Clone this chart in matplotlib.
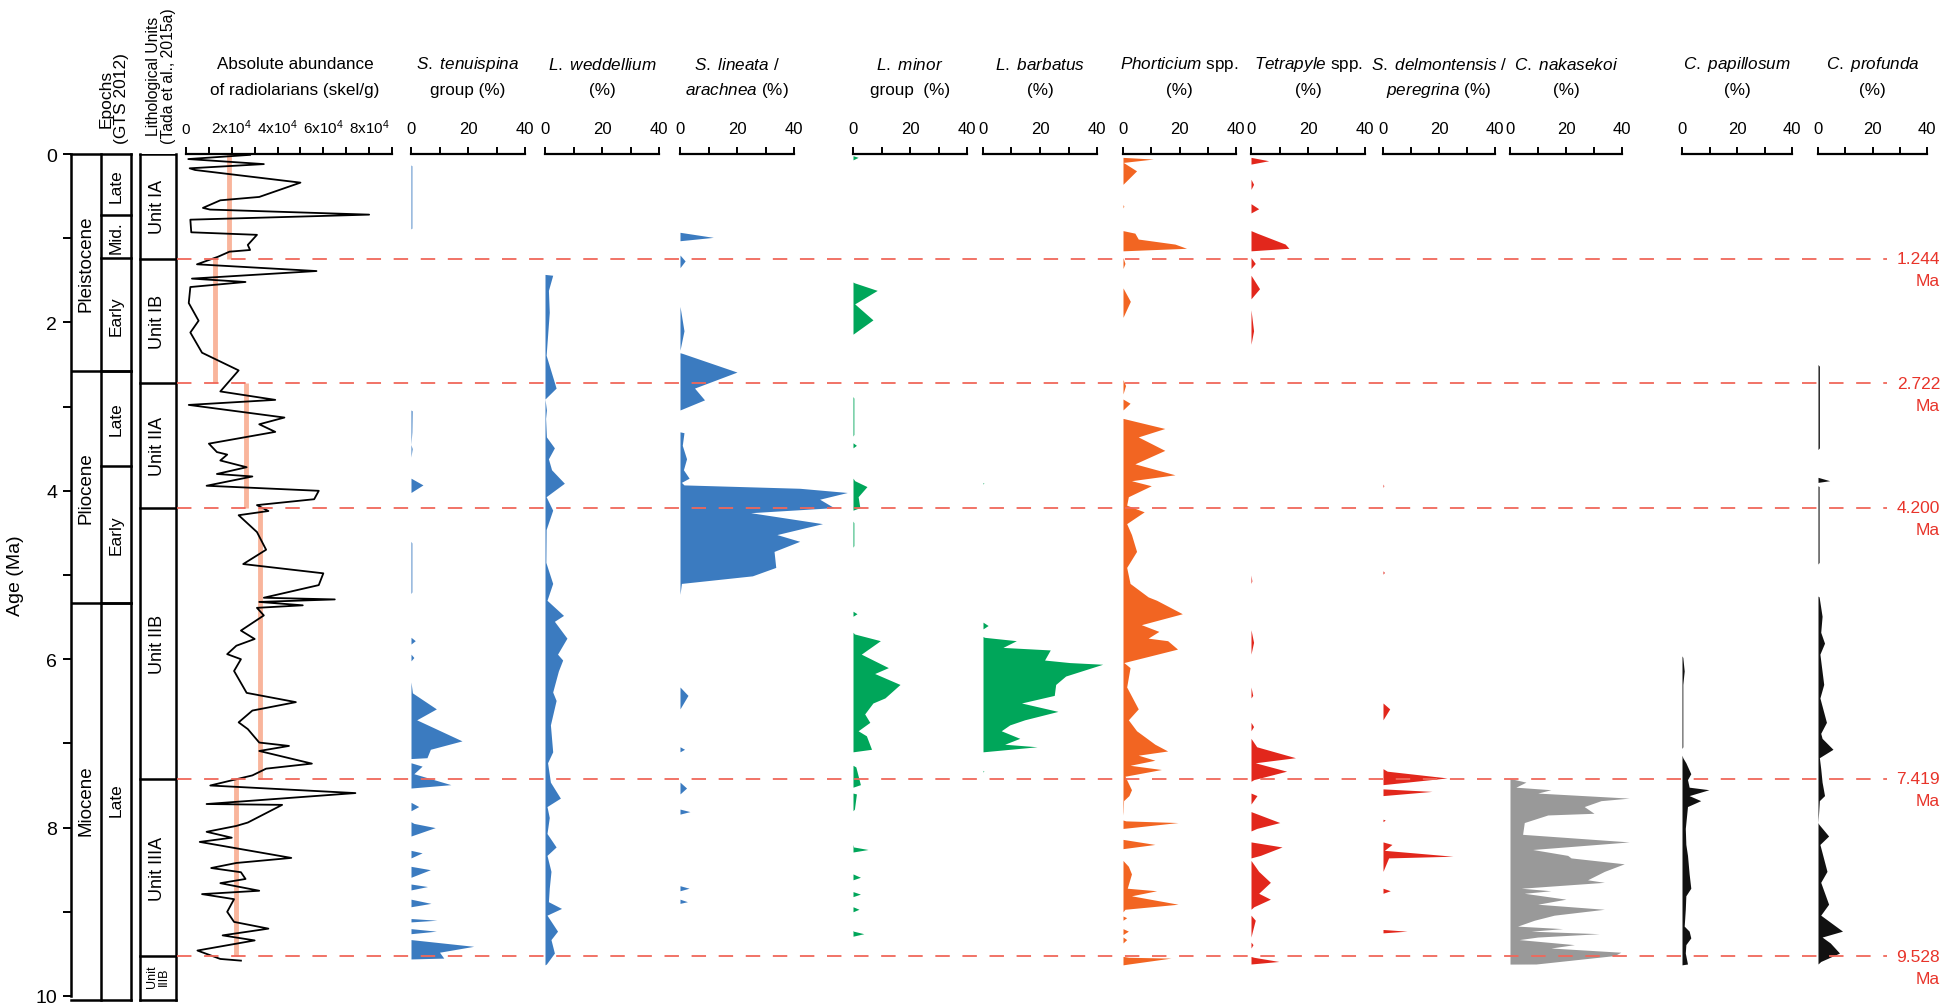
import matplotlib
matplotlib.use("Agg")
from matplotlib import pyplot as plt
from matplotlib import font_manager

W, H = 1946, 1004
TOP, BOT = 155, 997   # pixel rows of 0 Ma and 10 Ma

names = {f.name for f in font_manager.fontManager.ttflist}
NARROW = "Liberation Sans Narrow" if "Liberation Sans Narrow" in names else "Liberation Sans"
TSIZE = 14 if NARROW.endswith("Narrow") else 12.3   # title size, narrower face if we have it
plt.rcParams["font.family"] = [NARROW, "DejaVu Sans"]
plt.rcParams["mathtext.fontset"] = "custom"
plt.rcParams["mathtext.rm"] = NARROW
plt.rcParams["mathtext.it"] = NARROW + ":italic"

# ---- stratigraphy
epochs = ["Pleistocene", "Pliocene", "Miocene"]
epoch_bounds = [0, 2.58, 5.33, 10]
subepochs = ["Late", "Mid.", "Early", "Late", "Early", "Late"]
subepoch_bounds = [0, 0.73, 1.24, 2.58, 3.7, 5.33, 10]
units = ["Unit IA", "Unit IB", "Unit IIA", "Unit IIB", "Unit IIIA", "Unit\nIIIB"]
unit_bounds = [0, 1.244, 2.722, 4.2, 7.419, 9.528, 10]
boundary_ages = [1.244, 2.722, 4.200, 7.419, 9.528]
boundary_labels = ["1.244", "2.722", "4.200", "7.419", "9.528"]

# ---- absolute abundance (age Ma, skel/g in 1e4)
abund = [(0.01, 2.8), (0.06, 0.1), (0.12, 3.4), (0.17, 0.16), (0.19, 0.4), (0.34, 5.0),
         (0.51, 3.2), (0.55, 1.5), (0.64, 0.74), (0.66, 1.05), (0.72, 8.0), (0.78, 0.19),
         (0.93, 0.23), (0.96, 3.1), (1.08, 2.7), (1.14, 2.8), (1.16, 1.9), (1.22, 1.4),
         (1.31, 0.48), (1.39, 5.7), (1.48, 0.26), (1.52, 2.6), (1.58, 0.19), (1.77, 0.12),
         (1.98, 0.55), (2.12, 0.19), (2.36, 0.7), (2.57, 2.3), (2.82, 1.5), (2.92, 3.9),
         (2.98, 0.12), (3.13, 4.3), (3.21, 3.2), (3.30, 3.9), (3.44, 1.0), (3.54, 1.35),
         (3.57, 1.8), (3.64, 1.5), (3.72, 2.65), (3.80, 1.35), (3.83, 2.9), (3.94, 0.9),
         (4.00, 5.8), (4.10, 5.6), (4.17, 3.1), (4.24, 3.6), (4.29, 2.3), (4.49, 3.1),
         (4.70, 3.5), (4.87, 2.5), (4.98, 6.0), (5.12, 5.8), (5.27, 3.4), (5.29, 6.5),
         (5.32, 3.2), (5.36, 5.1), (5.39, 3.1), (5.48, 3.4), (5.66, 2.4), (5.76, 3.0),
         (5.84, 2.2), (5.94, 1.8), (6.00, 2.4), (6.14, 2.1), (6.40, 2.65), (6.51, 4.8),
         (6.61, 2.9), (6.75, 2.3), (6.83, 2.7), (6.99, 3.2), (7.03, 4.5), (7.09, 3.2),
         (7.24, 5.5), (7.30, 3.5), (7.38, 2.9), (7.50, 1.06), (7.59, 7.4), (7.72, 0.9),
         (7.73, 4.2), (7.94, 2.7), (7.98, 2.2), (8.05, 0.9), (8.12, 2.0), (8.17, 0.6),
         (8.36, 4.6), (8.42, 2.2), (8.48, 1.1), (8.53, 2.4), (8.61, 2.6), (8.66, 1.5),
         (8.75, 3.2), (8.79, 0.7), (8.85, 2.1), (9.00, 1.8), (9.12, 2.1), (9.20, 3.6),
         (9.28, 1.6), (9.34, 3.0), (9.46, 0.5), (9.56, 1.5), (9.58, 2.4)]
unit_mean = [1.9, 1.26, 2.6, 3.25, 2.2]   # x1e4, units IA..IIIA

# ---- relative abundances (age Ma, %)
tenuispina = [(0.13, 0), (0.14, 0.3), (0.88, 0.3), (0.89, 0), (3.04, 0), (3.05, 0.4), (3.3, 0.3),
              (3.45, 0), (3.5, 0.4), (3.6, 0), (3.85, 0), (3.93, 4.2), (4.02, 0), (4.6, 0),
              (4.62, 0.3), (5.2, 0.3), (5.22, 0), (5.74, 0), (5.78, 1.5), (5.82, 0), (5.94, 0),
              (5.98, 1.0), (6.02, 0), (6.27, 0), (6.4, 0.5), (6.59, 8.9), (6.72, 2.0), (6.97, 17.9),
              (7.07, 6.8), (7.17, 5.6), (7.18, 0), (7.23, 0), (7.27, 3.9), (7.36, 1.0), (7.49, 14.0),
              (7.53, 0), (7.7, 0), (7.75, 2.7), (7.8, 0), (7.93, 0), (7.95, 1.0), (8.0, 8.5),
              (8.1, 0), (8.27, 0), (8.3, 3.9), (8.36, 0), (8.46, 0), (8.5, 6.8), (8.59, 0),
              (8.67, 0), (8.7, 5.8), (8.74, 0), (8.85, 0), (8.9, 7.0), (8.94, 0), (9.08, 0),
              (9.1, 9.1), (9.12, 0), (9.2, 0), (9.23, 8.9), (9.26, 0), (9.33, 0), (9.41, 22.0),
              (9.48, 10.0), (9.55, 11.5), (9.56, 0)]
weddellium = [(1.43, 0), (1.44, 2.7), (1.62, 1.2), (1.88, 1.5), (2.39, 0.4), (2.78, 3.9), (2.91, 0),
              (3.04, 0.5), (3.14, 0.2), (3.36, 0.5), (3.49, 3.3), (3.62, 1.2), (3.75, 2.3),
              (3.91, 6.8), (4.07, 0.4), (4.23, 2.7), (4.46, 0.4), (4.85, 0.3), (5.1, 2.7),
              (5.3, 0.7), (5.48, 6.5), (5.55, 3.3), (5.75, 7.7), (5.94, 4.4), (6.01, 6.2),
              (6.14, 4.7), (6.39, 2.7), (6.49, 3.9), (6.78, 1.9), (7.1, 2.7), (7.23, 0.9),
              (7.46, 1.9), (7.65, 5.4), (7.75, 0.7), (7.88, 1.5), (8.07, 0.7), (8.23, 3.9),
              (8.33, 0.7), (8.52, 2.1), (8.72, 1.5), (8.88, 1.2), (8.96, 5.8), (9.04, 0.7),
              (9.23, 4.4), (9.33, 2.1), (9.49, 3.3), (9.62, 0.5), (9.63, 0)]
lineata = [(0.93, 0), (0.99, 11.7), (1.03, 0), (1.2, 0), (1.27, 1.8), (1.35, 0), (1.81, 0),
           (2.1, 1.4), (2.33, 0), (2.36, 0), (2.37, 1.0), (2.59, 20.0), (2.78, 5.1), (2.92, 8.6),
           (3.04, 0), (3.3, 0), (3.31, 1.4), (3.46, 0.8), (3.62, 2.3), (3.75, 1.2), (3.85, 3.2),
           (3.9, 0.5), (3.93, 1.4), (3.97, 42.0), (4.02, 58.7), (4.1, 49.0), (4.2, 54.0),
           (4.26, 24.8), (4.39, 50.0), (4.52, 34.0), (4.6, 42.0), (4.72, 33.0), (4.91, 33.6),
           (5.01, 25.4), (5.1, 0.5), (5.23, 0), (6.33, 0), (6.43, 2.8), (6.59, 0), (7.04, 0),
           (7.07, 1.6), (7.1, 0), (7.46, 0), (7.53, 2.3), (7.6, 0), (7.78, 0), (7.81, 3.5),
           (7.84, 0), (8.69, 0), (8.72, 3.2), (8.75, 0), (8.85, 0), (8.88, 2.6), (8.9, 0)]
minor = [(0.02, 0), (0.04, 1.8), (0.07, 0), (1.52, 0), (1.53, 0.5), (1.62, 8.5), (1.78, 0.6),
         (1.97, 7.0), (2.14, 0), (2.88, 0), (2.9, 0.3), (3.33, 0.3), (3.35, 0), (3.43, 0),
         (3.46, 1.2), (3.49, 0), (3.85, 0), (3.88, 0.6), (3.95, 4.9), (4.07, 1.8), (4.2, 2.4),
         (4.23, 0), (4.36, 0), (4.38, 0.3), (4.65, 0.3), (4.67, 0), (5.43, 0), (5.46, 1.4),
         (5.49, 0), (5.68, 0), (5.7, 0.5), (5.78, 9.6), (5.94, 2.9), (6.1, 12.4), (6.17, 7.6),
         (6.3, 16.5), (6.46, 11.2), (6.52, 7.0), (6.65, 4.1), (6.75, 5.9), (6.85, 1.8),
         (6.91, 4.7), (7.07, 6.5), (7.1, 0), (7.26, 0), (7.28, 1.0), (7.49, 2.6), (7.52, 0),
         (7.59, 0), (7.6, 1.2), (7.78, 0.5), (7.8, 0), (8.2, 0), (8.23, 0.2), (8.26, 5.3),
         (8.29, 0), (8.55, 0), (8.59, 2.6), (8.62, 0), (8.76, 0), (8.79, 2.6), (8.82, 0),
         (8.94, 0), (8.97, 2.1), (9.0, 0), (9.22, 0), (9.23, 0.2), (9.26, 3.8), (9.29, 0)]
barbatus = [(3.9, 0), (3.91, 0.3), (3.92, 0), (5.56, 0), (5.6, 1.8), (5.64, 0), (5.73, 0),
            (5.74, 0.5), (5.78, 11.7), (5.86, 7.0), (5.89, 23.6), (6.01, 21.6), (6.04, 30.4),
            (6.06, 42.0), (6.2, 29.0), (6.3, 25.5), (6.43, 25.0), (6.52, 13.5), (6.62, 26.3),
            (6.72, 14.6), (6.78, 9.4), (6.85, 6.4), (6.94, 12.9), (7.01, 7.6), (7.04, 19.0),
            (7.1, 0), (7.32, 0), (7.33, 0.3), (7.34, 0)]
phorticium = [(0.04, 0), (0.06, 10.7), (0.1, 0.1), (0.2, 4.8), (0.36, 0), (0.6, 0), (0.62, 0.3),
              (0.64, 0), (0.91, 0), (0.94, 4.2), (1.01, 5.4), (1.07, 18.4), (1.12, 22.5),
              (1.15, 0), (1.23, 0), (1.3, 0.7), (1.36, 0), (1.59, 0), (1.75, 2.6), (1.94, 0),
              (2.68, 0), (2.75, 0.9), (2.85, 0), (2.91, 0), (2.96, 2.5), (3.04, 0), (3.14, 0),
              (3.26, 14.8), (3.36, 5.4), (3.52, 14.8), (3.68, 4.2), (3.81, 18.4), (3.88, 3.0),
              (3.94, 10.0), (4.07, 1.9), (4.17, 1.3), (4.25, 7.5), (4.39, 1.3), (4.52, 3.0),
              (4.72, 4.8), (4.91, 1.3), (5.1, 2.5), (5.26, 8.9), (5.3, 11.9), (5.46, 21.0),
              (5.59, 6.5), (5.67, 12.7), (5.75, 8.9), (5.78, 15.8), (5.88, 19.3), (6.04, 0.3),
              (6.1, 2.5), (6.33, 1.3), (6.59, 5.4), (6.72, 1.9), (6.85, 4.8), (7.01, 11.3),
              (7.09, 15.8), (7.14, 5.4), (7.2, 11.3), (7.26, 2.5), (7.31, 13.6), (7.39, 0.7),
              (7.55, 3.0), (7.62, 2.1), (7.68, 0.2), (7.81, 0.1), (7.85, 0), (7.91, 0),
              (7.92, 1.0), (7.94, 19.5), (8.01, 0), (8.14, 0), (8.2, 11.3), (8.25, 0), (8.39, 0),
              (8.46, 1.9), (8.55, 3.0), (8.72, 1.5), (8.75, 11.9), (8.81, 3.0), (8.91, 19.5),
              (8.97, 0.7), (9.0, 0), (9.05, 0), (9.07, 1.3), (9.1, 0), (9.2, 0), (9.23, 1.9),
              (9.27, 0), (9.3, 0), (9.33, 1.3), (9.37, 0), (9.53, 0), (9.54, 2.0), (9.55, 17.0),
              (9.62, 2.0), (9.63, 0)]
tetrapyle = [(0.04, 0), (0.08, 6.2), (0.12, 0), (0.3, 0), (0.36, 0.9), (0.42, 0), (0.59, 0),
             (0.65, 2.7), (0.7, 0), (0.91, 0), (0.94, 2.1), (1.07, 12.0), (1.12, 13.3), (1.15, 0),
             (1.23, 0), (1.3, 1.5), (1.36, 0), (1.44, 0), (1.6, 3.0), (1.72, 0), (1.85, 0),
             (2.1, 0.9), (2.26, 0), (5.0, 0), (5.07, 0.3), (5.1, 0), (5.65, 0), (5.8, 0.9),
             (5.94, 0), (6.33, 0), (6.43, 0.6), (6.46, 0), (6.75, 0), (6.8, 0.9), (6.85, 0),
             (6.94, 0), (7.04, 2.0), (7.17, 15.6), (7.23, 1.5), (7.33, 12.5), (7.43, 1.0),
             (7.45, 0), (7.59, 0), (7.62, 2.1), (7.72, 0), (7.81, 0), (7.94, 10.1), (8.01, 2.0),
             (8.04, 0), (8.17, 0), (8.23, 10.9), (8.33, 3.3), (8.36, 0), (8.39, 0), (8.52, 2.7),
             (8.65, 6.8), (8.78, 2.7), (8.85, 6.8), (8.94, 1.0), (8.97, 0), (9.04, 0), (9.1, 1.5),
             (9.23, 0.5), (9.3, 0), (9.36, 0), (9.39, 0.7), (9.43, 0), (9.53, 0), (9.54, 1.0),
             (9.59, 9.8), (9.62, 0)]
delmontensis = [(3.92, 0), (3.94, 0.3), (3.96, 0), (4.95, 0), (4.97, 0.5), (4.99, 0), (6.52, 0),
                (6.59, 2.4), (6.72, 0), (7.3, 0), (7.33, 1.5), (7.41, 22.9), (7.49, 0),
                (7.54, 0), (7.55, 5.8), (7.57, 17.5), (7.62, 0), (7.9, 0), (7.91, 0.8),
                (7.93, 0), (8.17, 0), (8.2, 3.2), (8.27, 0.5), (8.34, 25.0), (8.36, 2.0),
                (8.52, 0), (8.72, 0), (8.75, 2.6), (8.78, 0), (9.21, 0), (9.23, 8.6), (9.25, 0)]
nakasekoi = [(7.41, 0), (7.42, 0.4), (7.46, 5.7), (7.52, 2.1), (7.55, 14.6), (7.59, 9.9),
             (7.65, 42.6), (7.68, 32.5), (7.75, 26.5), (7.83, 30.0), (7.85, 13.5), (7.94, 5.1),
             (8.08, 4.5), (8.17, 42.6), (8.26, 8.1), (8.33, 20.6), (8.36, 21.8), (8.43, 40.8),
             (8.52, 33.7), (8.62, 27.7), (8.65, 33.7), (8.72, 4.0), (8.75, 14.6), (8.78, 5.1),
             (8.85, 20.0), (8.91, 9.9), (8.97, 33.7), (9.04, 15.8), (9.1, 8.7), (9.17, 2.7),
             (9.2, 18.8), (9.23, 7.5), (9.26, 31.9), (9.3, 9.9), (9.33, 3.3), (9.39, 23.0),
             (9.43, 14.6), (9.48, 39.6), (9.52, 37.3), (9.62, 9.3), (9.621, 0)]
papillosum = [(5.96, 0), (5.98, 0.3), (6.14, 0.8), (6.3, 0.3), (7.04, 0.3), (7.06, 0), (7.14, 0),
              (7.17, 0.3), (7.23, 1.4), (7.36, 3.2), (7.43, 2.0), (7.52, 2.6), (7.55, 9.8),
              (7.62, 2.6), (7.68, 6.8), (7.75, 2.0), (8.01, 1.2), (8.2, 1.4), (8.33, 2.0),
              (8.55, 2.6), (8.72, 3.2), (8.81, 1.4), (8.97, 1.2), (9.17, 0.8), (9.23, 2.6),
              (9.31, 3.2), (9.39, 1.4), (9.49, 1.2), (9.62, 2.0), (9.63, 0)]
profunda = [(2.5, 0), (2.52, 0.5), (3.49, 0.5), (3.51, 0), (3.84, 0), (3.88, 4.3), (3.9, 0),
            (3.94, 0), (3.95, 0.4), (4.85, 0.4), (4.87, 0), (5.25, 0), (5.26, 0.4), (5.49, 1.5),
            (5.68, 1.0), (5.81, 2.4), (5.94, 0.7), (6.3, 2.1), (6.46, 0.7), (6.75, 3.1),
            (6.88, 1.0), (6.94, 1.5), (7.07, 5.5), (7.17, 0.5), (7.3, 1.0), (7.46, 1.5),
            (7.62, 2.4), (7.68, 0.5), (7.94, 0), (7.96, 0.3), (8.1, 3.9), (8.2, 0.7),
            (8.52, 3.3), (8.65, 1.0), (8.91, 3.9), (9.04, 1.0), (9.23, 9.0), (9.3, 1.5),
            (9.37, 4.5), (9.49, 7.9), (9.59, 1.0), (9.62, 0)]

# title line 1, title line 2, colour, data, left px, right px
panels = [
    (r"$\it{S.\ tenuispina}$", "group (%)", "#3b7bc0", tenuispina, 411, 525),
    (r"$\it{L.\ weddellium}$", "(%)", "#3b7bc0", weddellium, 545, 659),
    (r"$\it{S.\ lineata\ /}$", r"$\it{arachnea}$ (%)", "#3b7bc0", lineata, 680, 794),
    (r"$\it{L.\ minor}$", "group  (%)", "#00a65a", minor, 853, 967),
    (r"$\it{L.\ barbatus}$", "(%)", "#00a65a", barbatus, 983, 1097),
    (r"$\it{Phorticium}$ spp.", "(%)", "#f26522", phorticium, 1123, 1236),
    (r"$\it{Tetrapyle}$ spp.", "(%)", "#e2271c", tetrapyle, 1251, 1365),
    (r"$\it{S.\ delmontensis\ /}$", r"$\it{peregrina}$ (%)", "#e2271c", delmontensis, 1383, 1495),
    (r"$\it{C.\ nakasekoi}$", "(%)", "#999999", nakasekoi, 1510, 1622),
    (r"$\it{C.\ papillosum}$", "(%)", "#111111", papillosum, 1682, 1792),
    (r"$\it{C.\ profunda}$", "(%)", "#111111", profunda, 1818, 1927),
]


def rect(x0, x1):
    return [x0 / W, 1 - BOT / H, (x1 - x0) / W, (BOT - TOP) / H]


def style_top_axis(ax, labelsize=12):
    for s in ("left", "right", "bottom"):
        ax.spines[s].set_visible(False)
    ax.spines["top"].set_linewidth(1.6)
    ax.xaxis.tick_top()
    ax.set_yticks([])
    ax.tick_params(axis="x", direction="out", length=5, width=1.4, pad=8, labelsize=labelsize)
    ax.patch.set_alpha(0)


fig = plt.figure(figsize=(W / 100, H / 100), dpi=100)

# ---- epochs / lithology column
ep = fig.add_axes(rect(71, 176))
ep.set_xlim(71, 176)
ep.set_ylim(10, 0)
for s in ("right", "top", "bottom"):
    ep.spines[s].set_visible(False)
ep.spines["left"].set_linewidth(1.8)
ep.set_xticks([])
ep.set_yticks(range(0, 11, 2))
ep.set_yticks(range(1, 10, 2), minor=True)
ep.tick_params(axis="y", which="both", direction="out", length=6, width=1.4, pad=4)
ep.set_yticklabels([str(v) for v in range(0, 11, 2)], family="Liberation Sans", fontsize=14)
ep.set_ylabel("Age (Ma)", family="Liberation Sans", fontsize=14, labelpad=8)
ep.patch.set_alpha(0)

lw = 1.8
for x in (101, 131):
    ep.plot([x, x], [0, 10.05], color="black", lw=lw, clip_on=False)
ep.plot([71, 131], [0, 0], color="black", lw=lw, clip_on=False)
ep.plot([71, 131], [10.05, 10.05], color="black", lw=lw, clip_on=False)
for b in epoch_bounds[1:-1]:
    ep.plot([71, 131], [b, b], color="black", lw=lw)
for b in subepoch_bounds[1:-1]:
    ep.plot([101, 131], [b, b], color="black", lw=lw)
for i, name in enumerate(epochs):
    ep.text(86, (epoch_bounds[i] + epoch_bounds[i + 1]) / 2, name, rotation=90,
            ha="center", va="center", family="Liberation Sans", fontsize=13.5)
for i, name in enumerate(subepochs):
    ep.text(116.5, (subepoch_bounds[i] + subepoch_bounds[i + 1]) / 2, name, rotation=90,
            ha="center", va="center", family="Liberation Sans", fontsize=12.5)

for x in (140, 176):
    ep.plot([x, x], [0, 10.05], color="black", lw=lw, clip_on=False)
ep.plot([140, 176], [10.05, 10.05], color="black", lw=lw, clip_on=False)
for b in unit_bounds[:-1]:
    ep.plot([140, 176], [b, b], color="black", lw=lw)
for i, name in enumerate(units):
    small = "\n" in name
    ep.text(158, (unit_bounds[i] + unit_bounds[i + 1]) / 2, name, rotation=90,
            ha="center", va="center", family="Liberation Sans",
            fontsize=9 if small else 13, linespacing=0.9)

fig.text(114 / W, 1 - 144 / H, "Epochs\n(GTS 2012)", rotation=90, ha="center", va="bottom",
         family="Liberation Sans", fontsize=12.5, linespacing=1.0)
fig.text(161 / W, 1 - 144 / H, "Lithological Units\n(Tada et al., 2015a)", rotation=90,
         ha="center", va="bottom", family="Liberation Sans", fontsize=11.3, linespacing=1.0)

# ---- absolute abundance
ab = fig.add_axes(rect(186, 392))
style_top_axis(ab, labelsize=11)
ab.set_xlim(0, 9)
ab.set_ylim(10, 0)
ab.set_xticks(range(0, 10))
ab.set_xticklabels(["0" if v == 0 else (r"$\mathregular{%dx10^4}$" % v if v % 2 == 0 else "")
                    for v in range(0, 10)])
for i, m in enumerate(unit_mean):
    ab.plot([m, m], [unit_bounds[i], unit_bounds[i + 1]], color="#f9b59c", lw=3.5,
            solid_capstyle="butt", zorder=1)
ab.plot([v for a, v in abund], [a for a, v in abund], color="black", lw=1.3, zorder=2)
fig.text(295 / W, 1 - 65 / H, "Absolute abundance", ha="center", va="center", fontsize=TSIZE)
fig.text(295 / W, 1 - 91 / H, "of radiolarians (skel/g)", ha="center", va="center", fontsize=TSIZE)

# ---- percentage panels
for t1, t2, col, data, x0, x1 in panels:
    ax = fig.add_axes(rect(x0, x1))
    style_top_axis(ax)
    ax.set_xlim(0, 40)
    ax.set_ylim(10, 0)
    ax.set_xticks([0, 10, 20, 30, 40])
    ax.set_xticklabels(["0", "", "20", "", "40"])
    ages = [a for a, v in data]
    vals = [v for a, v in data]
    ax.fill_betweenx(ages, 0, vals, color=col, lw=0, clip_on=False)
    cx = (x0 + x1) / 2 / W
    fig.text(cx, 1 - 65 / H, t1, ha="center", va="center", fontsize=TSIZE)
    fig.text(cx, 1 - 91 / H, t2, ha="center", va="center", fontsize=TSIZE)

# ---- unit boundaries across the whole figure
ov = fig.add_axes([0, 1 - BOT / H, 1, (BOT - TOP) / H])
ov.set_xlim(0, W)
ov.set_ylim(10, 0)
ov.axis("off")
ov.patch.set_alpha(0)
ov.hlines(boundary_ages, 177, 1887, colors="#f0685a", lw=1.3, linestyles=(0, (8, 7)))
for a, lab in zip(boundary_ages, boundary_labels):
    ov.text(1940, a, lab, ha="right", va="center", color="#e8342a",
            family="Liberation Sans", fontsize=12.5)
    ov.text(1940, a + 0.26, "Ma", ha="right", va="center", color="#e8342a",
            family="Liberation Sans", fontsize=12.5)

fig.savefig("out.png", dpi=100)
